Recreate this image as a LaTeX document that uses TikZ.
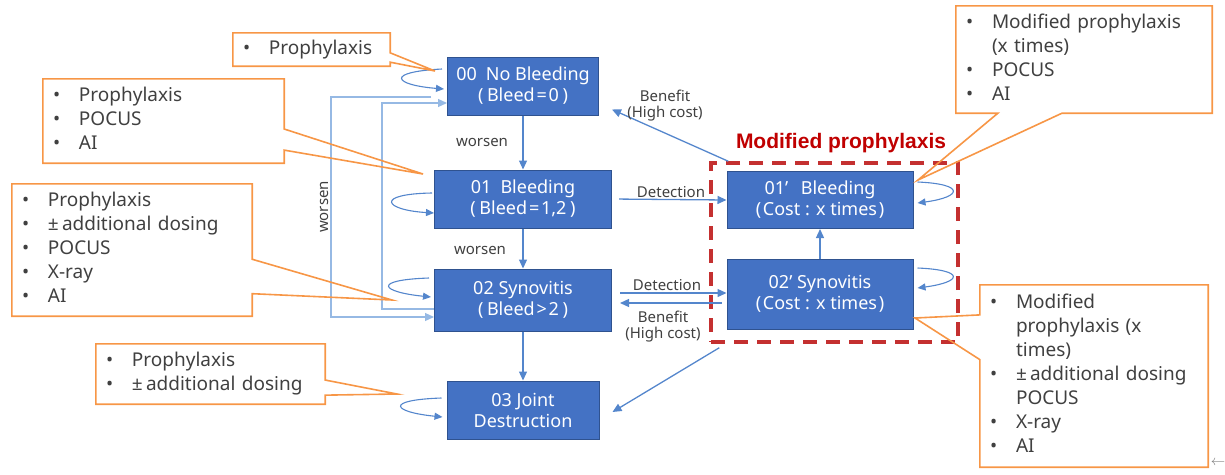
\documentclass[tikz,border=0pt]{standalone}
\usepackage{fontspec}
\setmainfont{Noto Sans}
\newfontfamily\titlefont{Liberation Sans}
\usetikzlibrary{calc,arrows.meta}
\definecolor{boxblue}{RGB}{68,114,196}
\definecolor{boxedge}{RGB}{47,82,143}
\definecolor{lineblue}{RGB}{84,134,204}
\definecolor{paleblue}{RGB}{150,185,228}
\definecolor{callorange}{RGB}{247,150,70}
\definecolor{modred}{RGB}{196,48,48}
\definecolor{titlered}{RGB}{192,0,0}
\definecolor{txtgray}{RGB}{64,64,64}
\tikzset{
  stbox/.style={draw=boxedge,fill=boxblue,text=white,line width=1pt,align=center,
    inner sep=0pt,font=\fontsize{18}{21}\selectfont},
  flow/.style={->,lineblue,line width=1.3pt},
  selfloop/.style={->,lineblue,line width=1.1pt,>={Triangle[length=8pt,width=7pt]}},
  backline/.style={paleblue,line width=1.2pt},
  lbl/.style={text=txtgray,align=center,inner sep=2pt,font=\fontsize{15}{16}\selectfont},
  calltext/.style={text=txtgray,align=left,inner xsep=10pt,inner ysep=0pt,
    font=\fontsize{19}{24}\selectfont},
  callout/.style={callorange,line width=1.6pt,line join=miter},
  modframe/.style={draw=modred,line width=3.5pt,dash pattern=on 14pt off 9pt}
}
\newcommand{\bulletlist}[1]{\begin{tabular}{@{}p{26pt}@{}l@{}}#1\end{tabular}}
\begin{document}
\begin{tikzpicture}[x=1pt,y=-1pt,>={Triangle[length=9pt,width=8pt]}]
\useasboundingbox (0,0) rectangle (1225,474);
% States
\node[stbox,minimum width=151pt,minimum height=58pt] (n00) at (523,86)
  {00\hspace{.5em}No Bleeding\\(\hspace{.2em}Bleed\hspace{.1em}=\hspace{.1em}0\hspace{.2em})};
\node[stbox,minimum width=177pt,minimum height=58pt] (n01) at (523,199)
  {01\hspace{.5em}Bleeding\\(\hspace{.2em}Bleed\hspace{.1em}=\hspace{.1em}1,2\hspace{.2em})};
\node[stbox,minimum width=177pt,minimum height=62pt] (n02) at (523,300)
  {02 Synovitis\\(\hspace{.2em}Bleed\hspace{.1em}>\hspace{.1em}2\hspace{.2em})};
\node[stbox,minimum width=152pt,minimum height=58pt] (n03) at (523,410)
  {03 Joint\\Destruction};
\node[stbox,minimum width=186pt,minimum height=57pt] (m01) at (820,200)
  {01’\hspace{.7em}Bleeding\\(\hspace{.1em}Cost : x times\hspace{.1em})};
\node[stbox,minimum width=186pt,minimum height=70pt] (m02) at (820,294)
  {02’ Synovitis\\(\hspace{.1em}Cost : x times\hspace{.1em})};
% Modified prophylaxis frame
\node[modframe,minimum width=247pt,minimum height=179pt,inner sep=0pt] (frame) at (834.5,252.5) {};
\node[text=titlered,font=\fontsize{21}{23}\titlefont\bfseries,inner sep=0pt] (title) at (841,143) {Modified prophylaxis};
% Transitions
\draw[flow] (n00) -- (n01);
\draw[flow] (n01) -- (n02);
\draw[flow] (n02) -- (n03);
\draw[flow] (m02) -- (m01);
\draw[flow,shorten <=7pt] (n01.east) -- (m01.west);
\draw[flow] ($(n02.east)+(8,-7)$) -- ($(m02.west)+(0,-1)$);
\draw[flow] ($(m02.west)+(-5,9)$) -- ($(n02.east)+(8,3)$);
\draw[flow] ($(frame.north west)+(19,0)$) -- ($(n00.south east)+(13,-6)$);
\draw[flow] ($(frame.south west)+(10,4)$) -- ($(n03.east)+(13,2)$);
% Labels
\node[lbl] (w1) at (482,142) {worsen};
\node[lbl] (w2) at (480,250) {worsen};
\node[lbl] (d1) at (671,192) {Detection};
\node[lbl] (d2) at (667,285) {Detection};
\node[lbl] (b1) at (665,106) {Benefit\\(High cost)};
\node[lbl] (b2) at (663,327) {Benefit\\(High cost)};
% Long-range lines
\draw[backline,->] ($(n02.west)+(0,9)$) -- ++(-52,0) |- ($(n00.west)+(0,17)$);
\draw[backline,->] ($(n00.west)+(-16,11)$) -- ++(-100,0) |- ($(n02.west)+(0,17)$)
  node[lbl,pos=.25,rotate=90,anchor=south] (w3) {worsen};
% Self loops
\draw[selfloop] ($(n00.west)+(-5,-17)$) .. controls +(-58,3) and +(-50,-4) .. ($(n00.west)+(-3,3)$);
\draw[selfloop] ($(n01.west)+(-2,-6)$) .. controls +(-58,1) and +(-50,-3) .. ($(n01.west)+(0,14)$);
\draw[selfloop] ($(n02.west)+(-5,-22)$) .. controls +(-58,2) and +(-50,-5) .. ($(n02.west)+(-3,-3)$);
\draw[selfloop] ($(n03.west)+(-5,-12)$) .. controls +(-58,2) and +(-50,-5) .. ($(n03.west)+(-4,7)$);
\draw[selfloop] ($(m01.east)+(4,-18)$) .. controls +(48,2) and +(45,-6) .. ($(m01.east)+(4,3)$);
\draw[selfloop] ($(m02.east)+(4,-26)$) .. controls +(48,2) and +(45,-6) .. ($(m02.east)+(4,-6)$);
% Callouts
\coordinate (t00) at (435,71);
\coordinate (t01) at (423,174);
\coordinate (t02) at (392,300);
\coordinate (t03) at (397,394);
\coordinate (tm01) at (918,180);
\coordinate (tm02) at (915,318);
\node[calltext,text width=137pt,minimum height=33pt] (c00) at (311.5,49.5)
  {\bulletlist{\textbullet & Prophylaxis}};
\node[calltext,text width=221pt,minimum height=84pt] (c01) at (163.5,121)
  {\bulletlist{\textbullet & Prophylaxis\\ \textbullet & POCUS\\ \textbullet & AI}};
\node[calltext,text width=220pt,minimum height=132pt] (c02) at (132,250)
  {\bulletlist{\textbullet & Prophylaxis\\ \textbullet & ±\,additional dosing\\ \textbullet & POCUS\\
    \textbullet & X-ray\\ \textbullet & AI}};
\node[calltext,text width=209pt,minimum height=60pt] (c03) at (210.5,374)
  {\bulletlist{\textbullet & Prophylaxis\\ \textbullet & ±\,additional dosing}};
\node[calltext,text width=236pt,minimum height=107pt] (cm01) at (1084,59.5)
  {\bulletlist{\textbullet & Modified prophylaxis\\ & (x times)\\ \textbullet & POCUS\\ \textbullet & AI}};
\node[calltext,text width=208pt,minimum height=182pt] (cm02) at (1094,376)
  {\bulletlist{\textbullet & Modified\\ & prophylaxis (x\\ & times)\\ \textbullet & ±\,additional dosing\\
    & POCUS\\ \textbullet & X-ray\\ \textbullet & AI}};
\draw[callout] (c00.north west) -- (c00.north east) -- ($(c00.north east)!.6!(c00.south east)$) -- (t00)
  -- ($(c00.north east)!.88!(c00.south east)$) -- (c00.south east) -- (c00.south west) -- cycle;
\draw[callout] (c01.north west) -- (c01.north east) -- ($(c01.north east)!.595!(c01.south east)$) -- (t01)
  -- ($(c01.north east)!.845!(c01.south east)$) -- (c01.south east) -- (c01.south west) -- cycle;
\draw[callout] (c02.north west) -- (c02.north east) -- ($(c02.north east)!.57!(c02.south east)$) -- (t02)
  -- ($(c02.north east)!.83!(c02.south east)$) -- (c02.south east) -- (c02.south west) -- cycle;
\draw[callout] (c03.north west) -- (c03.north east) -- ($(c03.north east)!.6!(c03.south east)$) -- (t03)
  -- ($(c03.north east)!.85!(c03.south east)$) -- (c03.south east) -- (c03.south west) -- cycle;
\draw[callout] (cm01.north west) -- (cm01.north east) -- (cm01.south east) -- ($(cm01.south west)!.414!(cm01.south east)$)
  -- (tm01) -- ($(cm01.south west)!.164!(cm01.south east)$) -- (cm01.south west) -- cycle;
\draw[callout] (cm02.north west) -- (cm02.north east) -- (cm02.south east) -- (cm02.south west)
  -- ($(cm02.north west)!.41!(cm02.south west)$) -- (tm02) -- ($(cm02.north west)!.165!(cm02.south west)$) -- cycle;
\node[text=gray,inner sep=0pt,font=\fontsize{14}{14}\selectfont] (back) at (1218,463) {$\leftarrow$};
\end{tikzpicture}
\end{document}
